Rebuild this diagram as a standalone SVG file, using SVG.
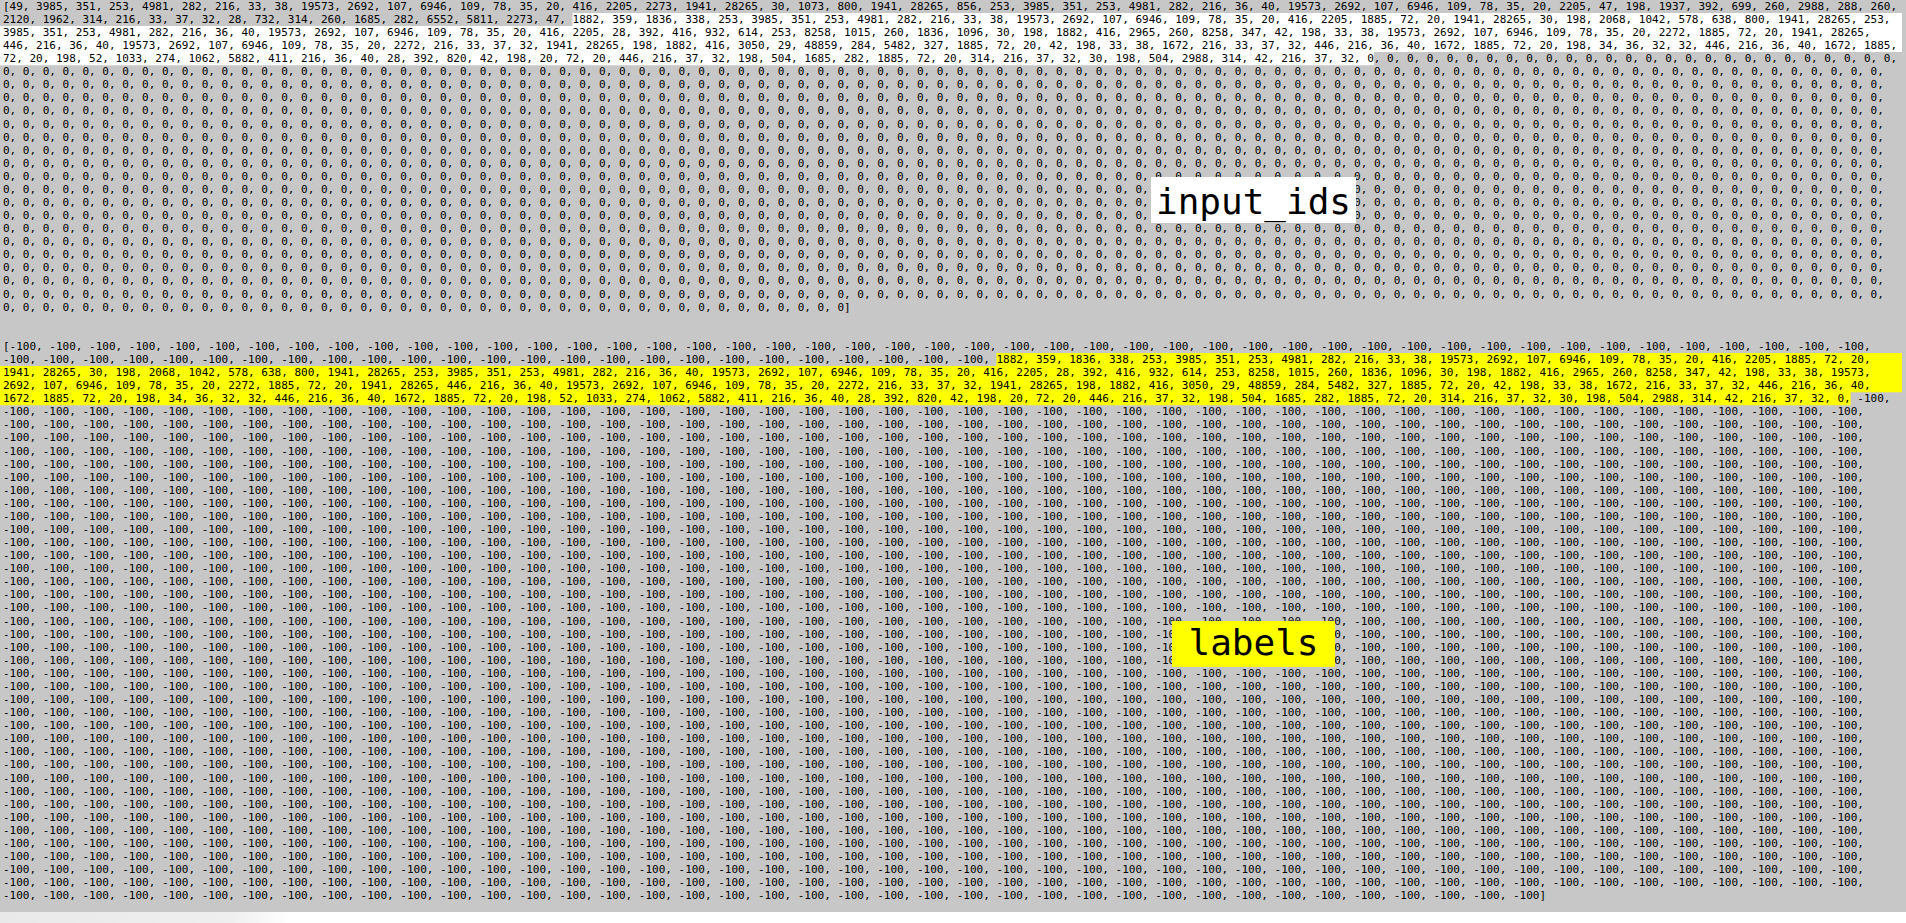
<svg xmlns="http://www.w3.org/2000/svg" width="1906" height="923" viewBox="0 0 1906 923">
<style>
.t{font-family:"DejaVu Sans Mono",monospace;font-size:11px;fill:#000}
.big{font-family:"DejaVu Sans Mono",monospace;font-size:36px;fill:#000;text-anchor:middle}
</style>
<defs>
<linearGradient id="sb" x1="0" y1="0" x2="1" y2="0">
<stop offset="0" stop-color="#e9e9e9"/>
<stop offset="0.8" stop-color="#efefef"/>
<stop offset="1" stop-color="#ffffff"/>
</linearGradient>
</defs>
<rect x="0" y="0" width="1906" height="912" fill="#c7c7c7"/>
<rect x="0" y="912" width="1906" height="11" fill="#ffffff"/>
<rect x="0" y="912" width="290" height="11" fill="url(#sb)"/>
<g id="input_ids">
<path d="M572.5,12.88 H1902 V52.12 H1373.9 V65.2 H0 V25.96 H572.5 Z" fill="#ffffff"/>
<text class="t" x="3" y="9.8" textLength="1894.06" lengthAdjust="spacing">[49, 3985, 351, 253, 4981, 282, 216, 33, 38, 19573, 2692, 107, 6946, 109, 78, 35, 20, 416, 2205, 2273, 1941, 28265, 30, 1073, 800, 1941, 28265, 856, 253, 3985, 351, 253, 4981, 282, 216, 36, 40, 19573, 2692, 107, 6946, 109, 78, 35, 20, 2205, 47, 198, 1937, 392, 699, 260, 2988, 288, 260,</text>
<text class="t" x="3" y="22.88" textLength="1887.44" lengthAdjust="spacing">2120, 1962, 314, 216, 33, 37, 32, 28, 732, 314, 260, 1685, 282, 6552, 5811, 2273, 47, 1882, 359, 1836, 338, 253, 3985, 351, 253, 4981, 282, 216, 33, 38, 19573, 2692, 107, 6946, 109, 78, 35, 20, 416, 2205, 1885, 72, 20, 1941, 28265, 30, 198, 2068, 1042, 578, 638, 800, 1941, 28265, 253,</text>
<text class="t" x="3" y="35.96" textLength="1867.57" lengthAdjust="spacing">3985, 351, 253, 4981, 282, 216, 36, 40, 19573, 2692, 107, 6946, 109, 78, 35, 20, 416, 2205, 28, 392, 416, 932, 614, 253, 8258, 1015, 260, 1836, 1096, 30, 198, 1882, 416, 2965, 260, 8258, 347, 42, 198, 33, 38, 19573, 2692, 107, 6946, 109, 78, 35, 20, 2272, 1885, 72, 20, 1941, 28265,</text>
<text class="t" x="3" y="49.04" textLength="1894.06" lengthAdjust="spacing">446, 216, 36, 40, 19573, 2692, 107, 6946, 109, 78, 35, 20, 2272, 216, 33, 37, 32, 1941, 28265, 198, 1882, 416, 3050, 29, 48859, 284, 5482, 327, 1885, 72, 20, 42, 198, 33, 38, 1672, 216, 33, 37, 32, 446, 216, 36, 40, 1672, 1885, 72, 20, 198, 34, 36, 32, 32, 446, 216, 36, 40, 1672, 1885,</text>
<text class="t" x="3" y="62.12" textLength="1894.06" lengthAdjust="spacing">72, 20, 198, 52, 1033, 274, 1062, 5882, 411, 216, 36, 40, 28, 392, 820, 42, 198, 20, 72, 20, 446, 216, 37, 32, 198, 504, 1685, 282, 1885, 72, 20, 314, 216, 37, 32, 30, 198, 504, 2988, 314, 42, 216, 37, 32, 0, 0, 0, 0, 0, 0, 0, 0, 0, 0, 0, 0, 0, 0, 0, 0, 0, 0, 0, 0, 0, 0, 0, 0, 0, 0, 0,</text>
<text class="t" x="3" y="75.2" textLength="1880.82" lengthAdjust="spacing">0, 0, 0, 0, 0, 0, 0, 0, 0, 0, 0, 0, 0, 0, 0, 0, 0, 0, 0, 0, 0, 0, 0, 0, 0, 0, 0, 0, 0, 0, 0, 0, 0, 0, 0, 0, 0, 0, 0, 0, 0, 0, 0, 0, 0, 0, 0, 0, 0, 0, 0, 0, 0, 0, 0, 0, 0, 0, 0, 0, 0, 0, 0, 0, 0, 0, 0, 0, 0, 0, 0, 0, 0, 0, 0, 0, 0, 0, 0, 0, 0, 0, 0, 0, 0, 0, 0, 0, 0, 0, 0, 0, 0, 0, 0,</text>
<text class="t" x="3" y="88.28" textLength="1880.82" lengthAdjust="spacing">0, 0, 0, 0, 0, 0, 0, 0, 0, 0, 0, 0, 0, 0, 0, 0, 0, 0, 0, 0, 0, 0, 0, 0, 0, 0, 0, 0, 0, 0, 0, 0, 0, 0, 0, 0, 0, 0, 0, 0, 0, 0, 0, 0, 0, 0, 0, 0, 0, 0, 0, 0, 0, 0, 0, 0, 0, 0, 0, 0, 0, 0, 0, 0, 0, 0, 0, 0, 0, 0, 0, 0, 0, 0, 0, 0, 0, 0, 0, 0, 0, 0, 0, 0, 0, 0, 0, 0, 0, 0, 0, 0, 0, 0, 0,</text>
<text class="t" x="3" y="101.36" textLength="1880.82" lengthAdjust="spacing">0, 0, 0, 0, 0, 0, 0, 0, 0, 0, 0, 0, 0, 0, 0, 0, 0, 0, 0, 0, 0, 0, 0, 0, 0, 0, 0, 0, 0, 0, 0, 0, 0, 0, 0, 0, 0, 0, 0, 0, 0, 0, 0, 0, 0, 0, 0, 0, 0, 0, 0, 0, 0, 0, 0, 0, 0, 0, 0, 0, 0, 0, 0, 0, 0, 0, 0, 0, 0, 0, 0, 0, 0, 0, 0, 0, 0, 0, 0, 0, 0, 0, 0, 0, 0, 0, 0, 0, 0, 0, 0, 0, 0, 0, 0,</text>
<text class="t" x="3" y="114.44" textLength="1880.82" lengthAdjust="spacing">0, 0, 0, 0, 0, 0, 0, 0, 0, 0, 0, 0, 0, 0, 0, 0, 0, 0, 0, 0, 0, 0, 0, 0, 0, 0, 0, 0, 0, 0, 0, 0, 0, 0, 0, 0, 0, 0, 0, 0, 0, 0, 0, 0, 0, 0, 0, 0, 0, 0, 0, 0, 0, 0, 0, 0, 0, 0, 0, 0, 0, 0, 0, 0, 0, 0, 0, 0, 0, 0, 0, 0, 0, 0, 0, 0, 0, 0, 0, 0, 0, 0, 0, 0, 0, 0, 0, 0, 0, 0, 0, 0, 0, 0, 0,</text>
<text class="t" x="3" y="127.52" textLength="1880.82" lengthAdjust="spacing">0, 0, 0, 0, 0, 0, 0, 0, 0, 0, 0, 0, 0, 0, 0, 0, 0, 0, 0, 0, 0, 0, 0, 0, 0, 0, 0, 0, 0, 0, 0, 0, 0, 0, 0, 0, 0, 0, 0, 0, 0, 0, 0, 0, 0, 0, 0, 0, 0, 0, 0, 0, 0, 0, 0, 0, 0, 0, 0, 0, 0, 0, 0, 0, 0, 0, 0, 0, 0, 0, 0, 0, 0, 0, 0, 0, 0, 0, 0, 0, 0, 0, 0, 0, 0, 0, 0, 0, 0, 0, 0, 0, 0, 0, 0,</text>
<text class="t" x="3" y="140.6" textLength="1880.82" lengthAdjust="spacing">0, 0, 0, 0, 0, 0, 0, 0, 0, 0, 0, 0, 0, 0, 0, 0, 0, 0, 0, 0, 0, 0, 0, 0, 0, 0, 0, 0, 0, 0, 0, 0, 0, 0, 0, 0, 0, 0, 0, 0, 0, 0, 0, 0, 0, 0, 0, 0, 0, 0, 0, 0, 0, 0, 0, 0, 0, 0, 0, 0, 0, 0, 0, 0, 0, 0, 0, 0, 0, 0, 0, 0, 0, 0, 0, 0, 0, 0, 0, 0, 0, 0, 0, 0, 0, 0, 0, 0, 0, 0, 0, 0, 0, 0, 0,</text>
<text class="t" x="3" y="153.68" textLength="1880.82" lengthAdjust="spacing">0, 0, 0, 0, 0, 0, 0, 0, 0, 0, 0, 0, 0, 0, 0, 0, 0, 0, 0, 0, 0, 0, 0, 0, 0, 0, 0, 0, 0, 0, 0, 0, 0, 0, 0, 0, 0, 0, 0, 0, 0, 0, 0, 0, 0, 0, 0, 0, 0, 0, 0, 0, 0, 0, 0, 0, 0, 0, 0, 0, 0, 0, 0, 0, 0, 0, 0, 0, 0, 0, 0, 0, 0, 0, 0, 0, 0, 0, 0, 0, 0, 0, 0, 0, 0, 0, 0, 0, 0, 0, 0, 0, 0, 0, 0,</text>
<text class="t" x="3" y="166.76" textLength="1880.82" lengthAdjust="spacing">0, 0, 0, 0, 0, 0, 0, 0, 0, 0, 0, 0, 0, 0, 0, 0, 0, 0, 0, 0, 0, 0, 0, 0, 0, 0, 0, 0, 0, 0, 0, 0, 0, 0, 0, 0, 0, 0, 0, 0, 0, 0, 0, 0, 0, 0, 0, 0, 0, 0, 0, 0, 0, 0, 0, 0, 0, 0, 0, 0, 0, 0, 0, 0, 0, 0, 0, 0, 0, 0, 0, 0, 0, 0, 0, 0, 0, 0, 0, 0, 0, 0, 0, 0, 0, 0, 0, 0, 0, 0, 0, 0, 0, 0, 0,</text>
<text class="t" x="3" y="179.84" textLength="1880.82" lengthAdjust="spacing">0, 0, 0, 0, 0, 0, 0, 0, 0, 0, 0, 0, 0, 0, 0, 0, 0, 0, 0, 0, 0, 0, 0, 0, 0, 0, 0, 0, 0, 0, 0, 0, 0, 0, 0, 0, 0, 0, 0, 0, 0, 0, 0, 0, 0, 0, 0, 0, 0, 0, 0, 0, 0, 0, 0, 0, 0, 0, 0, 0, 0, 0, 0, 0, 0, 0, 0, 0, 0, 0, 0, 0, 0, 0, 0, 0, 0, 0, 0, 0, 0, 0, 0, 0, 0, 0, 0, 0, 0, 0, 0, 0, 0, 0, 0,</text>
<text class="t" x="3" y="192.92" textLength="1880.82" lengthAdjust="spacing">0, 0, 0, 0, 0, 0, 0, 0, 0, 0, 0, 0, 0, 0, 0, 0, 0, 0, 0, 0, 0, 0, 0, 0, 0, 0, 0, 0, 0, 0, 0, 0, 0, 0, 0, 0, 0, 0, 0, 0, 0, 0, 0, 0, 0, 0, 0, 0, 0, 0, 0, 0, 0, 0, 0, 0, 0, 0, 0, 0, 0, 0, 0, 0, 0, 0, 0, 0, 0, 0, 0, 0, 0, 0, 0, 0, 0, 0, 0, 0, 0, 0, 0, 0, 0, 0, 0, 0, 0, 0, 0, 0, 0, 0, 0,</text>
<text class="t" x="3" y="206" textLength="1880.82" lengthAdjust="spacing">0, 0, 0, 0, 0, 0, 0, 0, 0, 0, 0, 0, 0, 0, 0, 0, 0, 0, 0, 0, 0, 0, 0, 0, 0, 0, 0, 0, 0, 0, 0, 0, 0, 0, 0, 0, 0, 0, 0, 0, 0, 0, 0, 0, 0, 0, 0, 0, 0, 0, 0, 0, 0, 0, 0, 0, 0, 0, 0, 0, 0, 0, 0, 0, 0, 0, 0, 0, 0, 0, 0, 0, 0, 0, 0, 0, 0, 0, 0, 0, 0, 0, 0, 0, 0, 0, 0, 0, 0, 0, 0, 0, 0, 0, 0,</text>
<text class="t" x="3" y="219.08" textLength="1880.82" lengthAdjust="spacing">0, 0, 0, 0, 0, 0, 0, 0, 0, 0, 0, 0, 0, 0, 0, 0, 0, 0, 0, 0, 0, 0, 0, 0, 0, 0, 0, 0, 0, 0, 0, 0, 0, 0, 0, 0, 0, 0, 0, 0, 0, 0, 0, 0, 0, 0, 0, 0, 0, 0, 0, 0, 0, 0, 0, 0, 0, 0, 0, 0, 0, 0, 0, 0, 0, 0, 0, 0, 0, 0, 0, 0, 0, 0, 0, 0, 0, 0, 0, 0, 0, 0, 0, 0, 0, 0, 0, 0, 0, 0, 0, 0, 0, 0, 0,</text>
<text class="t" x="3" y="232.16" textLength="1880.82" lengthAdjust="spacing">0, 0, 0, 0, 0, 0, 0, 0, 0, 0, 0, 0, 0, 0, 0, 0, 0, 0, 0, 0, 0, 0, 0, 0, 0, 0, 0, 0, 0, 0, 0, 0, 0, 0, 0, 0, 0, 0, 0, 0, 0, 0, 0, 0, 0, 0, 0, 0, 0, 0, 0, 0, 0, 0, 0, 0, 0, 0, 0, 0, 0, 0, 0, 0, 0, 0, 0, 0, 0, 0, 0, 0, 0, 0, 0, 0, 0, 0, 0, 0, 0, 0, 0, 0, 0, 0, 0, 0, 0, 0, 0, 0, 0, 0, 0,</text>
<text class="t" x="3" y="245.24" textLength="1880.82" lengthAdjust="spacing">0, 0, 0, 0, 0, 0, 0, 0, 0, 0, 0, 0, 0, 0, 0, 0, 0, 0, 0, 0, 0, 0, 0, 0, 0, 0, 0, 0, 0, 0, 0, 0, 0, 0, 0, 0, 0, 0, 0, 0, 0, 0, 0, 0, 0, 0, 0, 0, 0, 0, 0, 0, 0, 0, 0, 0, 0, 0, 0, 0, 0, 0, 0, 0, 0, 0, 0, 0, 0, 0, 0, 0, 0, 0, 0, 0, 0, 0, 0, 0, 0, 0, 0, 0, 0, 0, 0, 0, 0, 0, 0, 0, 0, 0, 0,</text>
<text class="t" x="3" y="258.32" textLength="1880.82" lengthAdjust="spacing">0, 0, 0, 0, 0, 0, 0, 0, 0, 0, 0, 0, 0, 0, 0, 0, 0, 0, 0, 0, 0, 0, 0, 0, 0, 0, 0, 0, 0, 0, 0, 0, 0, 0, 0, 0, 0, 0, 0, 0, 0, 0, 0, 0, 0, 0, 0, 0, 0, 0, 0, 0, 0, 0, 0, 0, 0, 0, 0, 0, 0, 0, 0, 0, 0, 0, 0, 0, 0, 0, 0, 0, 0, 0, 0, 0, 0, 0, 0, 0, 0, 0, 0, 0, 0, 0, 0, 0, 0, 0, 0, 0, 0, 0, 0,</text>
<text class="t" x="3" y="271.4" textLength="1880.82" lengthAdjust="spacing">0, 0, 0, 0, 0, 0, 0, 0, 0, 0, 0, 0, 0, 0, 0, 0, 0, 0, 0, 0, 0, 0, 0, 0, 0, 0, 0, 0, 0, 0, 0, 0, 0, 0, 0, 0, 0, 0, 0, 0, 0, 0, 0, 0, 0, 0, 0, 0, 0, 0, 0, 0, 0, 0, 0, 0, 0, 0, 0, 0, 0, 0, 0, 0, 0, 0, 0, 0, 0, 0, 0, 0, 0, 0, 0, 0, 0, 0, 0, 0, 0, 0, 0, 0, 0, 0, 0, 0, 0, 0, 0, 0, 0, 0, 0,</text>
<text class="t" x="3" y="284.48" textLength="1880.82" lengthAdjust="spacing">0, 0, 0, 0, 0, 0, 0, 0, 0, 0, 0, 0, 0, 0, 0, 0, 0, 0, 0, 0, 0, 0, 0, 0, 0, 0, 0, 0, 0, 0, 0, 0, 0, 0, 0, 0, 0, 0, 0, 0, 0, 0, 0, 0, 0, 0, 0, 0, 0, 0, 0, 0, 0, 0, 0, 0, 0, 0, 0, 0, 0, 0, 0, 0, 0, 0, 0, 0, 0, 0, 0, 0, 0, 0, 0, 0, 0, 0, 0, 0, 0, 0, 0, 0, 0, 0, 0, 0, 0, 0, 0, 0, 0, 0, 0,</text>
<text class="t" x="3" y="297.56" textLength="1880.82" lengthAdjust="spacing">0, 0, 0, 0, 0, 0, 0, 0, 0, 0, 0, 0, 0, 0, 0, 0, 0, 0, 0, 0, 0, 0, 0, 0, 0, 0, 0, 0, 0, 0, 0, 0, 0, 0, 0, 0, 0, 0, 0, 0, 0, 0, 0, 0, 0, 0, 0, 0, 0, 0, 0, 0, 0, 0, 0, 0, 0, 0, 0, 0, 0, 0, 0, 0, 0, 0, 0, 0, 0, 0, 0, 0, 0, 0, 0, 0, 0, 0, 0, 0, 0, 0, 0, 0, 0, 0, 0, 0, 0, 0, 0, 0, 0, 0, 0,</text>
<text class="t" x="3" y="310.64" textLength="847.69" lengthAdjust="spacing">0, 0, 0, 0, 0, 0, 0, 0, 0, 0, 0, 0, 0, 0, 0, 0, 0, 0, 0, 0, 0, 0, 0, 0, 0, 0, 0, 0, 0, 0, 0, 0, 0, 0, 0, 0, 0, 0, 0, 0, 0, 0, 0]</text>
</g>
<g id="labels">
<path d="M996.4,352.96 H1902 V392.2 H1850.7 V405.28 H0 V366.04 H996.4 Z" fill="#ffff00"/>
<text class="t" x="3" y="349.88" textLength="1867.57" lengthAdjust="spacing">[-100, -100, -100, -100, -100, -100, -100, -100, -100, -100, -100, -100, -100, -100, -100, -100, -100, -100, -100, -100, -100, -100, -100, -100, -100, -100, -100, -100, -100, -100, -100, -100, -100, -100, -100, -100, -100, -100, -100, -100, -100, -100, -100, -100, -100, -100, -100,</text>
<text class="t" x="3" y="362.96" textLength="1867.57" lengthAdjust="spacing">-100, -100, -100, -100, -100, -100, -100, -100, -100, -100, -100, -100, -100, -100, -100, -100, -100, -100, -100, -100, -100, -100, -100, -100, -100, 1882, 359, 1836, 338, 253, 3985, 351, 253, 4981, 282, 216, 33, 38, 19573, 2692, 107, 6946, 109, 78, 35, 20, 416, 2205, 1885, 72, 20,</text>
<text class="t" x="3" y="376.04" textLength="1867.57" lengthAdjust="spacing">1941, 28265, 30, 198, 2068, 1042, 578, 638, 800, 1941, 28265, 253, 3985, 351, 253, 4981, 282, 216, 36, 40, 19573, 2692, 107, 6946, 109, 78, 35, 20, 416, 2205, 28, 392, 416, 932, 614, 253, 8258, 1015, 260, 1836, 1096, 30, 198, 1882, 416, 2965, 260, 8258, 347, 42, 198, 33, 38, 19573,</text>
<text class="t" x="3" y="389.12" textLength="1867.57" lengthAdjust="spacing">2692, 107, 6946, 109, 78, 35, 20, 2272, 1885, 72, 20, 1941, 28265, 446, 216, 36, 40, 19573, 2692, 107, 6946, 109, 78, 35, 20, 2272, 216, 33, 37, 32, 1941, 28265, 198, 1882, 416, 3050, 29, 48859, 284, 5482, 327, 1885, 72, 20, 42, 198, 33, 38, 1672, 216, 33, 37, 32, 446, 216, 36, 40,</text>
<text class="t" x="3" y="402.2" textLength="1887.44" lengthAdjust="spacing">1672, 1885, 72, 20, 198, 34, 36, 32, 32, 446, 216, 36, 40, 1672, 1885, 72, 20, 198, 52, 1033, 274, 1062, 5882, 411, 216, 36, 40, 28, 392, 820, 42, 198, 20, 72, 20, 446, 216, 37, 32, 198, 504, 1685, 282, 1885, 72, 20, 314, 216, 37, 32, 30, 198, 504, 2988, 314, 42, 216, 37, 32, 0, -100,</text>
<text class="t" x="3" y="415.28" textLength="1860.95" lengthAdjust="spacing">-100, -100, -100, -100, -100, -100, -100, -100, -100, -100, -100, -100, -100, -100, -100, -100, -100, -100, -100, -100, -100, -100, -100, -100, -100, -100, -100, -100, -100, -100, -100, -100, -100, -100, -100, -100, -100, -100, -100, -100, -100, -100, -100, -100, -100, -100, -100,</text>
<text class="t" x="3" y="428.36" textLength="1860.95" lengthAdjust="spacing">-100, -100, -100, -100, -100, -100, -100, -100, -100, -100, -100, -100, -100, -100, -100, -100, -100, -100, -100, -100, -100, -100, -100, -100, -100, -100, -100, -100, -100, -100, -100, -100, -100, -100, -100, -100, -100, -100, -100, -100, -100, -100, -100, -100, -100, -100, -100,</text>
<text class="t" x="3" y="441.44" textLength="1860.95" lengthAdjust="spacing">-100, -100, -100, -100, -100, -100, -100, -100, -100, -100, -100, -100, -100, -100, -100, -100, -100, -100, -100, -100, -100, -100, -100, -100, -100, -100, -100, -100, -100, -100, -100, -100, -100, -100, -100, -100, -100, -100, -100, -100, -100, -100, -100, -100, -100, -100, -100,</text>
<text class="t" x="3" y="454.52" textLength="1860.95" lengthAdjust="spacing">-100, -100, -100, -100, -100, -100, -100, -100, -100, -100, -100, -100, -100, -100, -100, -100, -100, -100, -100, -100, -100, -100, -100, -100, -100, -100, -100, -100, -100, -100, -100, -100, -100, -100, -100, -100, -100, -100, -100, -100, -100, -100, -100, -100, -100, -100, -100,</text>
<text class="t" x="3" y="467.6" textLength="1860.95" lengthAdjust="spacing">-100, -100, -100, -100, -100, -100, -100, -100, -100, -100, -100, -100, -100, -100, -100, -100, -100, -100, -100, -100, -100, -100, -100, -100, -100, -100, -100, -100, -100, -100, -100, -100, -100, -100, -100, -100, -100, -100, -100, -100, -100, -100, -100, -100, -100, -100, -100,</text>
<text class="t" x="3" y="480.68" textLength="1860.95" lengthAdjust="spacing">-100, -100, -100, -100, -100, -100, -100, -100, -100, -100, -100, -100, -100, -100, -100, -100, -100, -100, -100, -100, -100, -100, -100, -100, -100, -100, -100, -100, -100, -100, -100, -100, -100, -100, -100, -100, -100, -100, -100, -100, -100, -100, -100, -100, -100, -100, -100,</text>
<text class="t" x="3" y="493.76" textLength="1860.95" lengthAdjust="spacing">-100, -100, -100, -100, -100, -100, -100, -100, -100, -100, -100, -100, -100, -100, -100, -100, -100, -100, -100, -100, -100, -100, -100, -100, -100, -100, -100, -100, -100, -100, -100, -100, -100, -100, -100, -100, -100, -100, -100, -100, -100, -100, -100, -100, -100, -100, -100,</text>
<text class="t" x="3" y="506.84" textLength="1860.95" lengthAdjust="spacing">-100, -100, -100, -100, -100, -100, -100, -100, -100, -100, -100, -100, -100, -100, -100, -100, -100, -100, -100, -100, -100, -100, -100, -100, -100, -100, -100, -100, -100, -100, -100, -100, -100, -100, -100, -100, -100, -100, -100, -100, -100, -100, -100, -100, -100, -100, -100,</text>
<text class="t" x="3" y="519.92" textLength="1860.95" lengthAdjust="spacing">-100, -100, -100, -100, -100, -100, -100, -100, -100, -100, -100, -100, -100, -100, -100, -100, -100, -100, -100, -100, -100, -100, -100, -100, -100, -100, -100, -100, -100, -100, -100, -100, -100, -100, -100, -100, -100, -100, -100, -100, -100, -100, -100, -100, -100, -100, -100,</text>
<text class="t" x="3" y="533" textLength="1860.95" lengthAdjust="spacing">-100, -100, -100, -100, -100, -100, -100, -100, -100, -100, -100, -100, -100, -100, -100, -100, -100, -100, -100, -100, -100, -100, -100, -100, -100, -100, -100, -100, -100, -100, -100, -100, -100, -100, -100, -100, -100, -100, -100, -100, -100, -100, -100, -100, -100, -100, -100,</text>
<text class="t" x="3" y="546.08" textLength="1860.95" lengthAdjust="spacing">-100, -100, -100, -100, -100, -100, -100, -100, -100, -100, -100, -100, -100, -100, -100, -100, -100, -100, -100, -100, -100, -100, -100, -100, -100, -100, -100, -100, -100, -100, -100, -100, -100, -100, -100, -100, -100, -100, -100, -100, -100, -100, -100, -100, -100, -100, -100,</text>
<text class="t" x="3" y="559.16" textLength="1860.95" lengthAdjust="spacing">-100, -100, -100, -100, -100, -100, -100, -100, -100, -100, -100, -100, -100, -100, -100, -100, -100, -100, -100, -100, -100, -100, -100, -100, -100, -100, -100, -100, -100, -100, -100, -100, -100, -100, -100, -100, -100, -100, -100, -100, -100, -100, -100, -100, -100, -100, -100,</text>
<text class="t" x="3" y="572.24" textLength="1860.95" lengthAdjust="spacing">-100, -100, -100, -100, -100, -100, -100, -100, -100, -100, -100, -100, -100, -100, -100, -100, -100, -100, -100, -100, -100, -100, -100, -100, -100, -100, -100, -100, -100, -100, -100, -100, -100, -100, -100, -100, -100, -100, -100, -100, -100, -100, -100, -100, -100, -100, -100,</text>
<text class="t" x="3" y="585.32" textLength="1860.95" lengthAdjust="spacing">-100, -100, -100, -100, -100, -100, -100, -100, -100, -100, -100, -100, -100, -100, -100, -100, -100, -100, -100, -100, -100, -100, -100, -100, -100, -100, -100, -100, -100, -100, -100, -100, -100, -100, -100, -100, -100, -100, -100, -100, -100, -100, -100, -100, -100, -100, -100,</text>
<text class="t" x="3" y="598.4" textLength="1860.95" lengthAdjust="spacing">-100, -100, -100, -100, -100, -100, -100, -100, -100, -100, -100, -100, -100, -100, -100, -100, -100, -100, -100, -100, -100, -100, -100, -100, -100, -100, -100, -100, -100, -100, -100, -100, -100, -100, -100, -100, -100, -100, -100, -100, -100, -100, -100, -100, -100, -100, -100,</text>
<text class="t" x="3" y="611.48" textLength="1860.95" lengthAdjust="spacing">-100, -100, -100, -100, -100, -100, -100, -100, -100, -100, -100, -100, -100, -100, -100, -100, -100, -100, -100, -100, -100, -100, -100, -100, -100, -100, -100, -100, -100, -100, -100, -100, -100, -100, -100, -100, -100, -100, -100, -100, -100, -100, -100, -100, -100, -100, -100,</text>
<text class="t" x="3" y="624.56" textLength="1860.95" lengthAdjust="spacing">-100, -100, -100, -100, -100, -100, -100, -100, -100, -100, -100, -100, -100, -100, -100, -100, -100, -100, -100, -100, -100, -100, -100, -100, -100, -100, -100, -100, -100, -100, -100, -100, -100, -100, -100, -100, -100, -100, -100, -100, -100, -100, -100, -100, -100, -100, -100,</text>
<text class="t" x="3" y="637.64" textLength="1860.95" lengthAdjust="spacing">-100, -100, -100, -100, -100, -100, -100, -100, -100, -100, -100, -100, -100, -100, -100, -100, -100, -100, -100, -100, -100, -100, -100, -100, -100, -100, -100, -100, -100, -100, -100, -100, -100, -100, -100, -100, -100, -100, -100, -100, -100, -100, -100, -100, -100, -100, -100,</text>
<text class="t" x="3" y="650.72" textLength="1860.95" lengthAdjust="spacing">-100, -100, -100, -100, -100, -100, -100, -100, -100, -100, -100, -100, -100, -100, -100, -100, -100, -100, -100, -100, -100, -100, -100, -100, -100, -100, -100, -100, -100, -100, -100, -100, -100, -100, -100, -100, -100, -100, -100, -100, -100, -100, -100, -100, -100, -100, -100,</text>
<text class="t" x="3" y="663.8" textLength="1860.95" lengthAdjust="spacing">-100, -100, -100, -100, -100, -100, -100, -100, -100, -100, -100, -100, -100, -100, -100, -100, -100, -100, -100, -100, -100, -100, -100, -100, -100, -100, -100, -100, -100, -100, -100, -100, -100, -100, -100, -100, -100, -100, -100, -100, -100, -100, -100, -100, -100, -100, -100,</text>
<text class="t" x="3" y="676.88" textLength="1860.95" lengthAdjust="spacing">-100, -100, -100, -100, -100, -100, -100, -100, -100, -100, -100, -100, -100, -100, -100, -100, -100, -100, -100, -100, -100, -100, -100, -100, -100, -100, -100, -100, -100, -100, -100, -100, -100, -100, -100, -100, -100, -100, -100, -100, -100, -100, -100, -100, -100, -100, -100,</text>
<text class="t" x="3" y="689.96" textLength="1860.95" lengthAdjust="spacing">-100, -100, -100, -100, -100, -100, -100, -100, -100, -100, -100, -100, -100, -100, -100, -100, -100, -100, -100, -100, -100, -100, -100, -100, -100, -100, -100, -100, -100, -100, -100, -100, -100, -100, -100, -100, -100, -100, -100, -100, -100, -100, -100, -100, -100, -100, -100,</text>
<text class="t" x="3" y="703.04" textLength="1860.95" lengthAdjust="spacing">-100, -100, -100, -100, -100, -100, -100, -100, -100, -100, -100, -100, -100, -100, -100, -100, -100, -100, -100, -100, -100, -100, -100, -100, -100, -100, -100, -100, -100, -100, -100, -100, -100, -100, -100, -100, -100, -100, -100, -100, -100, -100, -100, -100, -100, -100, -100,</text>
<text class="t" x="3" y="716.12" textLength="1860.95" lengthAdjust="spacing">-100, -100, -100, -100, -100, -100, -100, -100, -100, -100, -100, -100, -100, -100, -100, -100, -100, -100, -100, -100, -100, -100, -100, -100, -100, -100, -100, -100, -100, -100, -100, -100, -100, -100, -100, -100, -100, -100, -100, -100, -100, -100, -100, -100, -100, -100, -100,</text>
<text class="t" x="3" y="729.2" textLength="1860.95" lengthAdjust="spacing">-100, -100, -100, -100, -100, -100, -100, -100, -100, -100, -100, -100, -100, -100, -100, -100, -100, -100, -100, -100, -100, -100, -100, -100, -100, -100, -100, -100, -100, -100, -100, -100, -100, -100, -100, -100, -100, -100, -100, -100, -100, -100, -100, -100, -100, -100, -100,</text>
<text class="t" x="3" y="742.28" textLength="1860.95" lengthAdjust="spacing">-100, -100, -100, -100, -100, -100, -100, -100, -100, -100, -100, -100, -100, -100, -100, -100, -100, -100, -100, -100, -100, -100, -100, -100, -100, -100, -100, -100, -100, -100, -100, -100, -100, -100, -100, -100, -100, -100, -100, -100, -100, -100, -100, -100, -100, -100, -100,</text>
<text class="t" x="3" y="755.36" textLength="1860.95" lengthAdjust="spacing">-100, -100, -100, -100, -100, -100, -100, -100, -100, -100, -100, -100, -100, -100, -100, -100, -100, -100, -100, -100, -100, -100, -100, -100, -100, -100, -100, -100, -100, -100, -100, -100, -100, -100, -100, -100, -100, -100, -100, -100, -100, -100, -100, -100, -100, -100, -100,</text>
<text class="t" x="3" y="768.44" textLength="1860.95" lengthAdjust="spacing">-100, -100, -100, -100, -100, -100, -100, -100, -100, -100, -100, -100, -100, -100, -100, -100, -100, -100, -100, -100, -100, -100, -100, -100, -100, -100, -100, -100, -100, -100, -100, -100, -100, -100, -100, -100, -100, -100, -100, -100, -100, -100, -100, -100, -100, -100, -100,</text>
<text class="t" x="3" y="781.52" textLength="1860.95" lengthAdjust="spacing">-100, -100, -100, -100, -100, -100, -100, -100, -100, -100, -100, -100, -100, -100, -100, -100, -100, -100, -100, -100, -100, -100, -100, -100, -100, -100, -100, -100, -100, -100, -100, -100, -100, -100, -100, -100, -100, -100, -100, -100, -100, -100, -100, -100, -100, -100, -100,</text>
<text class="t" x="3" y="794.6" textLength="1860.95" lengthAdjust="spacing">-100, -100, -100, -100, -100, -100, -100, -100, -100, -100, -100, -100, -100, -100, -100, -100, -100, -100, -100, -100, -100, -100, -100, -100, -100, -100, -100, -100, -100, -100, -100, -100, -100, -100, -100, -100, -100, -100, -100, -100, -100, -100, -100, -100, -100, -100, -100,</text>
<text class="t" x="3" y="807.68" textLength="1860.95" lengthAdjust="spacing">-100, -100, -100, -100, -100, -100, -100, -100, -100, -100, -100, -100, -100, -100, -100, -100, -100, -100, -100, -100, -100, -100, -100, -100, -100, -100, -100, -100, -100, -100, -100, -100, -100, -100, -100, -100, -100, -100, -100, -100, -100, -100, -100, -100, -100, -100, -100,</text>
<text class="t" x="3" y="820.76" textLength="1860.95" lengthAdjust="spacing">-100, -100, -100, -100, -100, -100, -100, -100, -100, -100, -100, -100, -100, -100, -100, -100, -100, -100, -100, -100, -100, -100, -100, -100, -100, -100, -100, -100, -100, -100, -100, -100, -100, -100, -100, -100, -100, -100, -100, -100, -100, -100, -100, -100, -100, -100, -100,</text>
<text class="t" x="3" y="833.84" textLength="1860.95" lengthAdjust="spacing">-100, -100, -100, -100, -100, -100, -100, -100, -100, -100, -100, -100, -100, -100, -100, -100, -100, -100, -100, -100, -100, -100, -100, -100, -100, -100, -100, -100, -100, -100, -100, -100, -100, -100, -100, -100, -100, -100, -100, -100, -100, -100, -100, -100, -100, -100, -100,</text>
<text class="t" x="3" y="846.92" textLength="1860.95" lengthAdjust="spacing">-100, -100, -100, -100, -100, -100, -100, -100, -100, -100, -100, -100, -100, -100, -100, -100, -100, -100, -100, -100, -100, -100, -100, -100, -100, -100, -100, -100, -100, -100, -100, -100, -100, -100, -100, -100, -100, -100, -100, -100, -100, -100, -100, -100, -100, -100, -100,</text>
<text class="t" x="3" y="860" textLength="1860.95" lengthAdjust="spacing">-100, -100, -100, -100, -100, -100, -100, -100, -100, -100, -100, -100, -100, -100, -100, -100, -100, -100, -100, -100, -100, -100, -100, -100, -100, -100, -100, -100, -100, -100, -100, -100, -100, -100, -100, -100, -100, -100, -100, -100, -100, -100, -100, -100, -100, -100, -100,</text>
<text class="t" x="3" y="873.08" textLength="1860.95" lengthAdjust="spacing">-100, -100, -100, -100, -100, -100, -100, -100, -100, -100, -100, -100, -100, -100, -100, -100, -100, -100, -100, -100, -100, -100, -100, -100, -100, -100, -100, -100, -100, -100, -100, -100, -100, -100, -100, -100, -100, -100, -100, -100, -100, -100, -100, -100, -100, -100, -100,</text>
<text class="t" x="3" y="886.16" textLength="1860.95" lengthAdjust="spacing">-100, -100, -100, -100, -100, -100, -100, -100, -100, -100, -100, -100, -100, -100, -100, -100, -100, -100, -100, -100, -100, -100, -100, -100, -100, -100, -100, -100, -100, -100, -100, -100, -100, -100, -100, -100, -100, -100, -100, -100, -100, -100, -100, -100, -100, -100, -100,</text>
<text class="t" x="3" y="899.24" textLength="1543.07" lengthAdjust="spacing">-100, -100, -100, -100, -100, -100, -100, -100, -100, -100, -100, -100, -100, -100, -100, -100, -100, -100, -100, -100, -100, -100, -100, -100, -100, -100, -100, -100, -100, -100, -100, -100, -100, -100, -100, -100, -100, -100, -100]</text>
</g>
<g id="input_ids-tag">
<rect x="1151" y="177" width="205" height="46" fill="#ffffff"/>
<text class="big" x="1253.5" y="213.5">input_ids</text>
</g>
<g id="labels-tag">
<rect x="1172" y="621" width="163" height="46" fill="#ffff00"/>
<text class="big" x="1253.5" y="655">labels</text>
</g>
</svg>
